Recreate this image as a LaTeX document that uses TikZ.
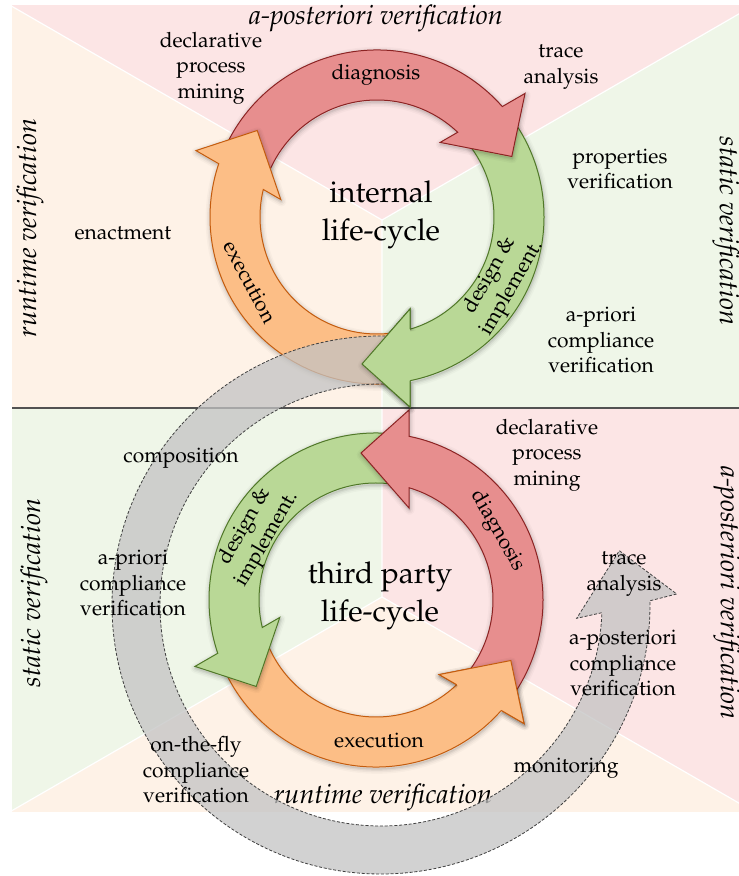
\documentclass[tikz,border=0pt]{standalone}
\usepackage[T1]{fontenc}
\usepackage{mathpazo}
\begin{document}
% one ring segment with its arrow head (clockwise, head at the bottom), centred on the origin
\newcommand{\ringarrow}{(38:167) arc[start angle=38,end angle=-78.6,radius=167] -- (33,-190) -- (-15,-147) -- (33,-92) -- (-73.6:117) arc[start angle=-73.6,end angle=38,radius=117] -- cycle}
\newcommand{\ringtip}{(-78.6:167) -- (33,-190) -- (-15,-147) -- (33,-92) -- (-73.6:117)}
% #1 transformation, #2 fill colour, #3 outline colour
\newcommand{\drawringarrow}[3]{%
  \foreach \w/\o in {10/0.025,7/0.035,4/0.05,1.5/0.07}{%
    \draw[black,opacity=\o,line width=\w,line join=round,shift={(0.6,-1.8)},#1] \ringarrow;}
  \filldraw[fill=#2,draw=#3,line width=1,#1] \ringarrow;}
\newcommand{\drawringtip}[3]{%
  \foreach \w/\o in {10/0.025,7/0.035,4/0.05,1.5/0.07}{%
    \draw[black,opacity=\o,line width=\w,line join=round,shift={(0.6,-1.8)},#1] \ringtip;}
  \fill[#2,#1] \ringtip -- cycle;
  \draw[#3,line width=1,#1] \ringtip;}
\begin{tikzpicture}[x=1pt,y=1pt]
\definecolor{bgpink}{RGB}{252,229,229}
\definecolor{bgpeach}{RGB}{254,242,231}
\definecolor{bggreen}{RGB}{239,246,232}
\definecolor{redfill}{RGB}{231,142,142}
\definecolor{redline}{RGB}{140,35,35}
\definecolor{orangefill}{RGB}{252,190,134}
\definecolor{orangeline}{RGB}{196,92,14}
\definecolor{greenfill}{RGB}{185,216,150}
\definecolor{greenline}{RGB}{80,120,40}
\definecolor{greyfill}{RGB}{195,195,195}
\tikzset{
  lbl/.style={font=\fontsize{21}{25.5}\selectfont,align=center,inner sep=0pt},
  ttl/.style={font=\fontsize{27}{32}\selectfont\itshape,inner sep=0pt},
  big/.style={font=\fontsize{30}{38.5}\selectfont,align=center,inner sep=0pt},
  sepline/.style={white,line width=1.2},
  divider/.style={draw=black!68,line width=2},
  bigarrow/.style={fill=greyfill,fill opacity=0.75,draw=black!75,line width=0.8,dash pattern=on 3pt off 1.8pt}
}
\useasboundingbox (0,0) rectangle (739,876);
\fill[white] (0,0) rectangle (739,876);

\coordinate (Ct) at (382,656);
\coordinate (Cb) at (382,279);
\coordinate (Ot) at (377,659);
\coordinate (Ob) at (376,276);
\coordinate (G) at (381,271);

% upper half: three verification sectors
\begin{scope}
  \clip (12,468) rectangle (739,870);
  \fill[bgpeach] (12,468) rectangle (739,870);
  \fill[bgpink] (Ct) -- +(150:900) -- +(90:900) -- +(30:900) -- cycle;
  \fill[bggreen] (Ct) -- +(30:900) -- +(-30:900) -- +(-90:900) -- cycle;
  \draw[sepline] (Ct) -- +(150:900) (Ct) -- +(30:900) (Ct) -- +(-90:900);
\end{scope}
% lower half
\begin{scope}
  \clip (12,64) rectangle (739,468);
  \fill[bggreen] (12,64) rectangle (739,468);
  \fill[bgpink] (Cb) -- +(90:900) -- +(30:900) -- +(-30:900) -- cycle;
  \fill[bgpeach] (Cb) -- +(-30:900) -- +(-90:900) -- +(-150:900) -- cycle;
  \draw[sepline] (Cb) -- +(90:900) (Cb) -- +(-30:900) (Cb) -- +(-150:900);
\end{scope}
\draw[divider] (12,468) -- (739,468);

% sector titles
\node[ttl] (t1) at (376,858) {a-posteriori verification};
\node[ttl,rotate=90] (t2) at (30,648) {runtime verification};
\node[ttl,rotate=-90] (t3) at (726,645) {static verification};
\node[ttl,rotate=90] (t4) at (34,283) {static verification};
\node[ttl] (t5) at (383,79) {runtime verification};
\node[ttl,rotate=-90] (t6) at (727,283) {a-posteriori verification};

% third party life-cycle (mirror image of the internal one)
\begin{scope}[shift={(Ob)}]
  \drawringarrow{yscale=-1,rotate=120}{orangefill}{orangeline}
  \drawringarrow{yscale=-1,rotate=240}{greenfill}{greenline}
  \drawringarrow{yscale=-1}{redfill}{redline}
  \drawringtip{yscale=-1,rotate=120}{orangefill}{orangeline}
\end{scope}

% internal life-cycle
\begin{scope}[shift={(Ot)}]
  \drawringarrow{}{greenfill}{greenline}
  \drawringarrow{rotate=120}{redfill}{redline}
  \drawringarrow{rotate=240}{orangefill}{orangeline}
\end{scope}

% composition arrow linking the two cycles
\begin{scope}[shift={(G)}]
  \path[bigarrow] (87:269) arc[start angle=87,end angle=360.9,radius=269] -- (295.7,11) -- (238.3,54.3) -- (195.7,-13.3) -- (358:221) arc[start angle=358,end angle=87,radius=221] -- cycle;
\end{scope}

\begin{scope}[shift={(Ot)}]
  \drawringtip{}{greenfill}{greenline}
\end{scope}

% labels of the internal life-cycle
\node[lbl] (dpm1) at (211,808) {declarative\\process\\mining};
\node[lbl] (ta1) at (561,809) {trace\\analysis};
\node[lbl] (pv1) at (620,707) {properties\\verification};
\node[lbl] (apc1) at (601,536) {a-priori\\compliance\\verification};
\node[lbl] (en1) at (123,643) {enactment};
\node[lbl] (diag1) at (376,801) {diagnosis};
\node[lbl,rotate=-62] (exe1) at (250,594) {execution};
\node[lbl,rotate=60] (des1) at (501,594) {design \&\\implement.};
\node[big] (int) at (381,661) {internal\\life-cycle};

% labels of the third party life-cycle
\node[lbl] (comp) at (181,418) {composition};
\node[lbl] (apc2) at (133,293) {a-priori\\compliance\\verification};
\node[lbl] (otf) at (196,106) {on-the-fly\\compliance\\verification};
\node[lbl] (dpm2) at (547,421) {declarative\\process\\mining};
\node[lbl] (ta2) at (624,302) {trace\\analysis};
\node[lbl] (apo) at (623,213) {a-posteriori\\compliance\\verification};
\node[lbl] (mon) at (566,108) {monitoring};
\node[lbl,rotate=60] (des2) at (256,343) {design \&\\implement.};
\node[lbl,rotate=-60] (diag2) at (497,345) {diagnosis};
\node[lbl] (exe2) at (379,136) {execution};
\node[big] (tp) at (380,280) {third party\\life-cycle};
\end{tikzpicture}
\end{document}
